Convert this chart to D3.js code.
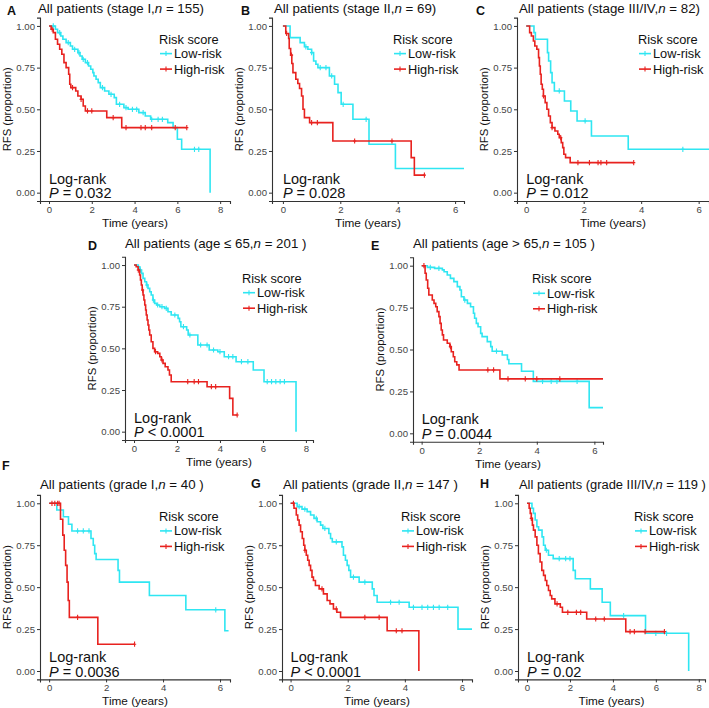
<!DOCTYPE html>
<html><head><meta charset="utf-8">
<script src="https://cdn.jsdelivr.net/npm/d3@7"></script>
<style>body{margin:0;background:#fff} svg{display:block} text{font-family:"Liberation Sans",Arial,sans-serif}</style>
</head><body><svg id="c" width="709" height="708"></svg>
<script>
// ---------------- data ----------------
const seriesNames = ["Low-risk", "High-risk"];
const legendTitle = "Risk score";
const panelLetters = ["A","B","C","D","E","F","G","H"];
const titlePre = ["All patients (stage I,","All patients (stage II,","All patients (stage III/IV,",
  "All patients (age \u2264 65,","All patients (age > 65,","All patients (grade I,",
  "All patients (grade II,","All patients (grade III/IV,"];
const titlePost = [" = 155)"," = 69)"," = 82)"," = 201 )"," = 105 )"," = 40 )"," = 147 )"," = 119 )"];
const pValues = ["= 0.032","= 0.028","= 0.012","< 0.0001","= 0.0044","= 0.0036","< 0.0001","= 0.02"];
const yTicks = [0, 0.25, 0.5, 0.75, 1];
const yTickLabels = ["0.00","0.25","0.50","0.75","1.00"];
const xTicks8 = [0,2,4,6,8];
const xTicks6 = [0,2,4,6];

// Kaplan-Meier steps: [time, survival after step]; censor times
const A_low = [[0,1],[0.3,0.98],[0.4,0.96],[0.55,0.94],[0.65,0.92],[0.8,0.90],[1.0,0.88],[1.1,0.86],[1.35,0.84],[1.45,0.82],[1.55,0.80],[1.7,0.78],[1.85,0.76],[1.95,0.74],[2.05,0.72],[2.1,0.70],[2.2,0.68],[2.3,0.66],[2.4,0.63],[2.6,0.61],[2.8,0.59],[3.05,0.57],[3.15,0.53],[3.5,0.51],[3.7,0.50],[4.2,0.48],[4.5,0.46],[4.75,0.44],[5.55,0.42],[5.8,0.39],[6.0,0.32],[6.2,0.26],[7.53,0]];
const A_low_c = [0.2,0.5,0.9,1.2,1.4,1.6,1.8,2.5,2.9,3.3,3.6,3.9,4.1,4.4,4.8,5.1,5.3,6.8,7.0];
const A_high = [[0,1],[0.1,0.98],[0.2,0.96],[0.3,0.92],[0.4,0.89],[0.5,0.86],[0.6,0.83],[0.7,0.78],[0.8,0.75],[0.92,0.71],[0.97,0.65],[1.02,0.63],[1.25,0.61],[1.35,0.58],[1.5,0.56],[1.6,0.52],[1.7,0.49],[2.7,0.45],[3.4,0.39],[6.44,0.39]];
const A_high_c = [0.15,1.1,1.5,1.8,2.0,3.0,3.6,4.3,4.5,4.8,5.9,6.44];

const B_low = [[0,1],[0.25,0.93],[0.6,0.90],[0.75,0.875],[0.87,0.86],[1.0,0.84],[1.07,0.79],[1.15,0.77],[1.22,0.75],[1.62,0.70],[1.8,0.65],[1.92,0.60],[2.03,0.53],[2.44,0.44],[3.0,0.29],[3.92,0.145],[6.31,0.145]];
const B_low_c = [0.8,1.0,1.3,1.5,1.7,2.1,2.9];
const B_high = [[0,1],[0.1,0.955],[0.2,0.925],[0.22,0.865],[0.27,0.825],[0.31,0.775],[0.35,0.72],[0.45,0.68],[0.52,0.655],[0.58,0.625],[0.65,0.58],[0.7,0.50],[0.75,0.45],[0.93,0.42],[1.74,0.31],[4.47,0.21],[4.58,0.105],[4.93,0.105]];
const B_high_c = [0.13,0.3,1.0,1.2,2.5,3.8,4.93];

const C_low = [[0,1],[0.27,0.96],[0.32,0.92],[0.74,0.84],[0.78,0.79],[0.85,0.72],[0.9,0.66],[0.98,0.61],[1.33,0.55],[1.55,0.49],[1.77,0.43],[2.27,0.34],[3.55,0.26],[6.36,0.26]];
const C_low_c = [1.15,2.05,5.45];
const C_high = [[0,1],[0.12,0.96],[0.18,0.94],[0.25,0.91],[0.3,0.88],[0.37,0.86],[0.43,0.81],[0.46,0.76],[0.49,0.71],[0.52,0.65],[0.56,0.62],[0.6,0.58],[0.66,0.54],[0.72,0.50],[0.78,0.46],[0.84,0.42],[0.9,0.39],[1.0,0.37],[1.1,0.35],[1.15,0.33],[1.22,0.30],[1.27,0.27],[1.31,0.23],[1.37,0.21],[1.53,0.18],[3.74,0.18]];
const C_high_c = [0.6,0.9,1.2,1.8,2.2,2.5,2.6,2.8,3.74];

const D_low = [[0,1],[0.2,0.99],[0.27,0.97],[0.35,0.95],[0.42,0.92],[0.5,0.90],[0.58,0.88],[0.65,0.86],[0.73,0.84],[0.8,0.82],[0.88,0.79],[0.96,0.77],[1.05,0.76],[1.2,0.75],[1.42,0.74],[1.58,0.72],[1.73,0.70],[2.05,0.68],[2.12,0.66],[2.18,0.63],[2.45,0.61],[2.52,0.58],[2.97,0.52],[3.5,0.49],[3.9,0.48],[4.2,0.45],[4.75,0.42],[5.55,0.37],[6.05,0.30],[7.54,0]];
const D_low_c = [0.3,0.6,0.9,1.1,1.3,1.5,1.9,2.3,2.6,3.1,3.4,3.7,4.0,4.4,4.6,5.0,5.3,6.2,6.4,6.6,6.8,7.0];
const D_high = [[0,1],[0.1,0.99],[0.19,0.97],[0.26,0.94],[0.3,0.91],[0.34,0.88],[0.38,0.85],[0.42,0.82],[0.46,0.79],[0.5,0.76],[0.54,0.73],[0.57,0.70],[0.61,0.67],[0.65,0.64],[0.69,0.61],[0.73,0.58],[0.8,0.54],[0.88,0.50],[0.96,0.48],[1.1,0.47],[1.2,0.45],[1.27,0.43],[1.35,0.41],[1.45,0.39],[1.58,0.37],[1.65,0.34],[1.73,0.30],[3.4,0.27],[4.45,0.20],[4.6,0.10],[4.8,0.10]];
const D_high_c = [0.2,0.4,1.0,1.3,2.5,2.8,3.0,3.6,3.8,4.8];

const E_low = [[0,1],[0.2,0.99],[0.45,0.984],[0.72,0.975],[0.78,0.964],[0.89,0.944],[1.0,0.924],[1.12,0.905],[1.24,0.875],[1.33,0.855],[1.38,0.815],[1.47,0.795],[1.59,0.775],[1.7,0.755],[1.8,0.716],[1.84,0.686],[1.9,0.656],[1.96,0.636],[2.05,0.596],[2.1,0.577],[2.28,0.547],[2.4,0.517],[2.45,0.49],[2.8,0.467],[2.98,0.44],[3.03,0.415],[3.47,0.37],[3.88,0.31],[5.82,0.153],[6.3,0.153]];
const E_low_c = [0.3,0.6,1.5,2.6,4.2,4.5,4.7,5.4];
const E_high = [[0,1],[0.12,0.955],[0.16,0.915],[0.21,0.865],[0.25,0.825],[0.37,0.795],[0.43,0.775],[0.49,0.755],[0.54,0.726],[0.6,0.696],[0.64,0.656],[0.68,0.616],[0.72,0.587],[0.76,0.557],[0.89,0.537],[0.98,0.517],[1.03,0.487],[1.1,0.457],[1.15,0.427],[1.22,0.408],[1.3,0.378],[2.72,0.325],[6.3,0.325]];
const E_high_c = [0.08,1.0,2.3,2.5,3.0,3.6,4.0,4.8];

const F_low = [[0,1],[0.27,0.96],[0.5,0.92],[0.68,0.875],[0.8,0.835],[1.47,0.79],[1.55,0.75],[1.6,0.70],[1.65,0.665],[2.42,0.60],[2.47,0.53],[3.52,0.45],[4.8,0.365],[6.17,0.24],[6.3,0.24]];
const F_low_c = [1.0,1.2,1.4,5.85];
const F_high = [[0,1],[0.4,0.905],[0.48,0.81],[0.53,0.72],[0.58,0.63],[0.63,0.53],[0.67,0.42],[0.71,0.32],[1.71,0.16],[3.0,0.16]];
const F_high_c = [0.1,0.2,0.3,0.35,1.0,3.0];

const G_low = [[0,1],[0.23,0.98],[0.4,0.965],[0.58,0.95],[0.7,0.93],[0.82,0.91],[0.93,0.89],[1.05,0.87],[1.13,0.85],[1.34,0.82],[1.4,0.79],[1.46,0.77],[1.8,0.74],[1.85,0.69],[1.92,0.66],[1.98,0.63],[2.04,0.60],[2.1,0.56],[2.4,0.53],[2.86,0.49],[2.92,0.45],[3.03,0.41],[4.15,0.38],[5.86,0.25],[6.35,0.25]];
const G_low_c = [0.3,0.5,0.9,1.2,1.6,2.2,2.6,3.5,3.8,4.3,4.6,4.8,5.0,5.2,5.5];
const G_high = [[0,1],[0.12,0.97],[0.2,0.93],[0.25,0.90],[0.3,0.87],[0.35,0.83],[0.41,0.79],[0.46,0.75],[0.5,0.72],[0.55,0.69],[0.6,0.66],[0.65,0.63],[0.7,0.60],[0.75,0.56],[0.8,0.54],[0.87,0.51],[1.0,0.49],[1.15,0.46],[1.28,0.42],[1.38,0.40],[1.5,0.37],[1.62,0.35],[1.75,0.32],[3.38,0.24],[4.49,0]];
const G_high_c = [0.1,0.5,1.1,1.6,2.6,3.1,3.7,3.9];

const H_low = [[0,1],[0.23,0.97],[0.3,0.94],[0.38,0.90],[0.46,0.86],[0.54,0.84],[0.7,0.80],[0.77,0.75],[0.85,0.72],[1.0,0.69],[1.22,0.67],[2.15,0.60],[2.25,0.55],[2.95,0.49],[3.5,0.41],[3.88,0.33],[5.52,0.225],[7.53,0]];
const H_low_c = [0.9,1.5,1.8,2.0,4.5,6.0,6.5];
const H_high = [[0,1],[0.1,0.97],[0.15,0.94],[0.2,0.91],[0.25,0.87],[0.3,0.84],[0.38,0.80],[0.46,0.75],[0.53,0.70],[0.61,0.65],[0.69,0.60],[0.77,0.57],[0.85,0.54],[0.92,0.51],[1.0,0.48],[1.08,0.45],[1.15,0.43],[1.3,0.40],[1.55,0.38],[1.65,0.35],[2.78,0.31],[4.6,0.235],[6.4,0.235]];
const H_high_c = [0.2,1.4,1.9,2.3,2.5,3.2,3.6,4.8,5.0,5.5,6.4];

// ---------------- layout ----------------
const colors = ["#2FE6F2", "#E8221F"];
const layout = [
  {left:40,  right:230, top:17.6, bottom:201, xdom:[-0.42,8.46], ticks:xTicks8, lx:7,   ly:15,  ty:13},
  {left:272, right:464, top:17.6, bottom:201, xdom:[-0.38,6.31], ticks:xTicks6, lx:241, ly:15,  ty:13},
  {left:517, right:709, top:17.6, bottom:201, xdom:[-0.32,6.36], ticks:xTicks6, lx:476, ly:15,  ty:13},
  {left:125, right:313, top:256.7,bottom:440, xdom:[-0.42,8.33], ticks:xTicks8, lx:88,  ly:250, ty:248},
  {left:413, right:603, top:257.3,bottom:441.7,xdom:[-0.30,6.30], ticks:xTicks6, lx:371, ly:250, ty:248},
  {left:40,  right:230, top:494.9,bottom:679.4,xdom:[-0.32,6.35], ticks:xTicks6, lx:2,   ly:470, ty:489},
  {left:282, right:472, top:494.9,bottom:679.4,xdom:[-0.30,6.35], ticks:xTicks6, lx:251, ly:488, ty:489},
  {left:518, right:705, top:494.9,bottom:679.4,xdom:[-0.42,8.29], ticks:xTicks8, lx:480, ly:488, ty:489}
];
const titleX = [38,274,519,125,413,40,283,519];
const lowSeries = [A_low,B_low,C_low,D_low,E_low,F_low,G_low,H_low];
const lowCens = [A_low_c,B_low_c,C_low_c,D_low_c,E_low_c,F_low_c,G_low_c,H_low_c];
const highSeries = [A_high,B_high,C_high,D_high,E_high,F_high,G_high,H_high];
const highCens = [A_high_c,B_high_c,C_high_c,D_high_c,E_high_c,F_high_c,G_high_c,H_high_c];

const svg = d3.select("#c");
const axisCol = "#333";

function survAt(steps, t){
  let s = 1;
  for (const p of steps){ if (p[0] <= t) s = p[1]; else break; }
  return s;
}

layout.forEach((L, i) => {
  const x = d3.scaleLinear().domain(L.xdom).range([L.left, L.right]);
  const y = d3.scaleLinear().domain([-0.05, 1.05]).range([L.bottom, L.top]);
  const g = svg.append("g");

  // axes
  const ya = d3.axisLeft(y).tickValues(yTicks).tickFormat((d, k) => yTickLabels[k]).tickSize(3).tickPadding(2);
  const xa = d3.axisBottom(x).tickValues(L.ticks).tickFormat(d3.format("d")).tickSize(3).tickPadding(2);
  const gy = g.append("g").attr("transform", `translate(${L.left},0)`).call(ya);
  const gx = g.append("g").attr("transform", `translate(0,${L.bottom})`).call(xa);
  [gy, gx].forEach(a => {
    a.select(".domain").attr("stroke", axisCol).attr("stroke-width", 1.1);
    a.selectAll(".tick line").attr("stroke", axisCol);
    a.selectAll(".tick text").attr("fill", "#444").style("font-size", "9.6px").style("font-family", '"Liberation Sans",Arial,sans-serif');
  });

  // curves
  const line = d3.line().x(d => x(d[0])).y(d => y(d[1])).curve(d3.curveStepAfter);
  const sets = [[lowSeries[i], lowCens[i]], [highSeries[i], highCens[i]]];
  sets.forEach((st, k) => {
    g.append("path").datum(st[0]).attr("d", line).attr("fill", "none")
      .attr("stroke", colors[k]).attr("stroke-width", 1.6);
    g.selectAll(null).data(st[1]).enter().append("path")
      .attr("d", c => { const cx = x(c), cy = y(survAt(st[0], c)); return `M${cx},${cy-2.6}V${cy+2.6}M${cx-1.6},${cy}H${cx+1.6}`; })
      .attr("stroke", colors[k]).attr("stroke-width", 1.1);
  });

  // letter
  g.append("text").attr("x", L.lx).attr("y", L.ly).text(panelLetters[i])
    .style("font-size", "12.5px").style("font-weight", "bold").attr("fill", "#111");
  // title (shrink if it would run past the page edge)
  let fs = 13.3;
  const t = g.append("text").attr("x", titleX[i]).attr("y", L.ty).style("font-size", fs + "px").attr("fill", "#111");
  t.append("tspan").text(titlePre[i]);
  t.append("tspan").text("n").style("font-style", "italic");
  t.append("tspan").text(titlePost[i]);
  const w = t.node().getComputedTextLength();
  if (titleX[i] + w > 706) { fs = fs * (706 - titleX[i]) / w; t.style("font-size", fs + "px"); }

  // axis titles
  g.append("text").attr("transform", `translate(${L.left - 29.5},${(y(0) + y(1)) / 2}) rotate(-90)`)
    .attr("text-anchor", "middle").style("font-size", "11.3px").attr("fill", "#111").text("RFS (proportion)");
  g.append("text").attr("x", (L.left + L.right) / 2).attr("y", L.bottom + 26)
    .attr("text-anchor", "middle").style("font-size", "11.8px").attr("fill", "#111").text("Time (years)");

  // legend
  const lx0 = L.right - 71;
  g.append("text").attr("x", lx0).attr("y", L.top + 26).style("font-size", "12.8px").attr("fill", "#111").text(legendTitle);
  seriesNames.forEach((nm, k) => {
    const cy = L.top + 36 + k * 15.5;
    g.append("line").attr("x1", lx0 + 1).attr("x2", lx0 + 13).attr("y1", cy).attr("y2", cy)
      .attr("stroke", colors[k]).attr("stroke-width", 1.6);
    g.append("line").attr("x1", lx0 + 7).attr("x2", lx0 + 7).attr("y1", cy - 2.5).attr("y2", cy + 2.5)
      .attr("stroke", colors[k]).attr("stroke-width", 1.1);
    g.append("text").attr("x", lx0 + 15).attr("y", cy + 4.5).style("font-size", "12.8px").attr("fill", "#111").text(nm);
  });

  // log-rank
  g.append("text").attr("x", x(0)).attr("y", y(0) - 9).style("font-size", "14.5px").attr("fill", "#111").text("Log-rank");
  const p = g.append("text").attr("x", x(0)).attr("y", y(0) + 5.5).style("font-size", "14.5px").attr("fill", "#111");
  p.append("tspan").text("P").style("font-style", "italic");
  p.append("tspan").text(" " + pValues[i]);
});
</script></body></html>
